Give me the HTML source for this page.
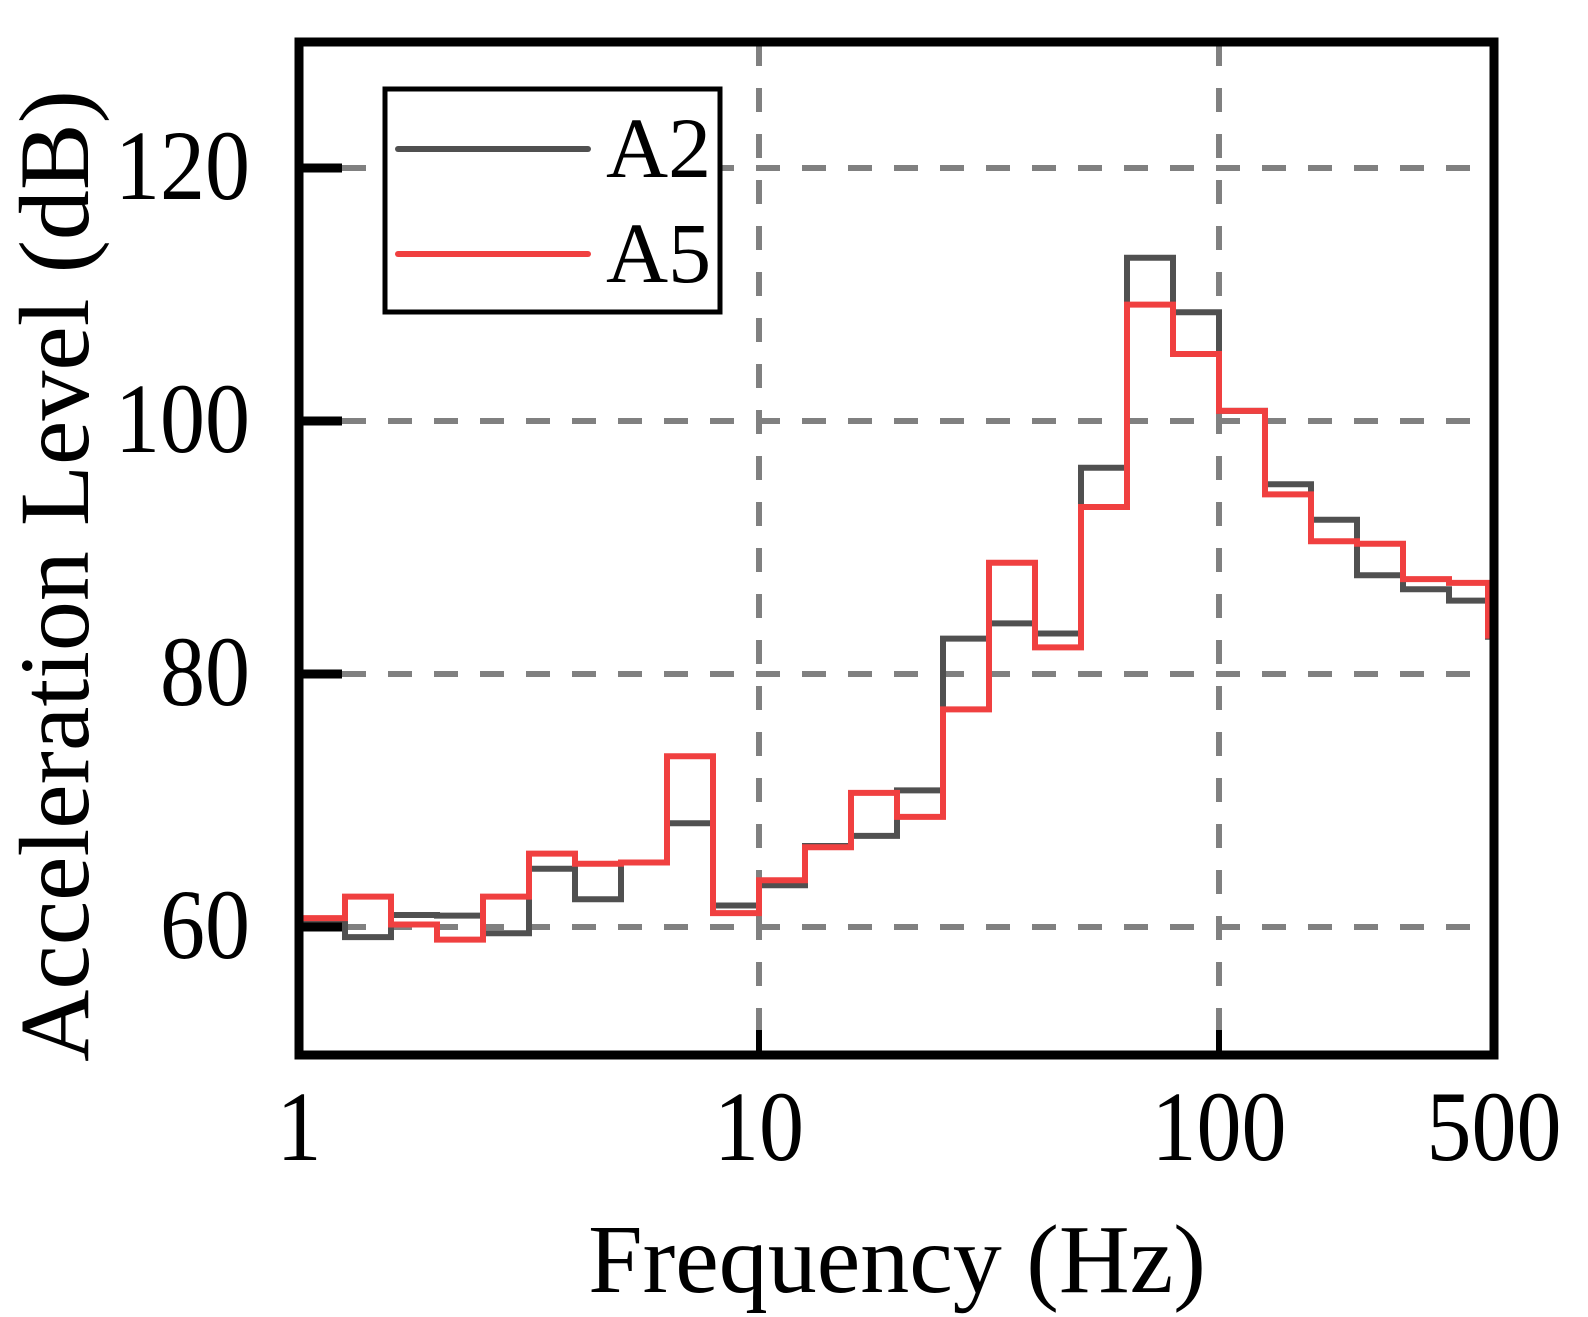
<!DOCTYPE html>
<html><head><meta charset="utf-8"><style>
html,body{margin:0;padding:0;background:#fff;}
svg{display:block;}
text{font-family:"Liberation Serif",serif;fill:#000;}
</style></head><body>
<svg id="chart" width="1588" height="1317" viewBox="0 0 1588 1317" xmlns="http://www.w3.org/2000/svg">
<g id="grid"></g>
<g id="series"></g>
<g id="axes"></g>
<g id="legend">
<rect x="385" y="89" width="335" height="223" fill="#fff" stroke="#000" stroke-width="5"/>
<line x1="398" y1="149" x2="588" y2="149" stroke="#505050" stroke-width="6" stroke-linecap="round"/>
<text x="606" y="177" font-size="86">A2</text>
<line x1="398" y1="254" x2="588" y2="254" stroke="#f04040" stroke-width="6" stroke-linecap="round"/>
<text x="606" y="282" font-size="86">A5</text>
</g>
<text x="0" y="0" font-size="100" text-anchor="middle" transform="translate(88,576) rotate(-90)">Acceleration Level (dB)</text>
<text x="897" y="1292" font-size="98" text-anchor="middle">Frequency (Hz)</text>
</svg>
<script>
const bandIndex = [0,1,2,3,4,5,6,7,8,9,10,11,12,13,14,15,16,17,18,19,20,21,22,23,24,25];
const a2Values = [60.5,59.2,60.95,60.9,59.5,64.6,62.2,65.1,68.2,61.7,63.3,66.4,67.2,70.8,82.8,84.0,83.2,96.3,112.9,108.6,100.8,95.0,92.2,87.8,86.7,85.8];
const a5Values = [60.7,62.4,60.2,59.0,62.4,65.8,65.0,65.1,73.5,61.1,63.7,66.3,70.6,68.7,77.2,88.8,82.1,93.2,109.2,105.3,100.8,94.2,90.5,90.3,87.5,87.2];
const a2End = 82.7;
const a5End = 82.8;
const yTicks = [60,80,100,120];
const xTicks = [1,10,100,500];
const xTickLabels = ["1","10","100","500"];

const L=299,R=1494,T=42,B=1055;
const decadePx=460;
function xs(f){return L+Math.log10(f)*decadePx;}
function ys(v){return 927-12.65*(v-60);}
const NS="http://www.w3.org/2000/svg";
function mk(tag,attrs,parent){const e=document.createElementNS(NS,tag);for(const k in attrs)e.setAttribute(k,attrs[k]);parent.appendChild(e);return e;}
const grid=document.getElementById('grid'),series=document.getElementById('series'),axes=document.getElementById('axes');

yTicks.forEach(v=>{
  const g=mk('line',{x1:L+43,x2:R,y1:ys(v),y2:ys(v),stroke:'#808080','stroke-width':6,'stroke-dasharray':'24 22'},grid);
  
  
});
[10,100].forEach(f=>{
  const g=mk('line',{x1:xs(f),x2:xs(f),y1:T,y2:B-25,stroke:'#808080','stroke-width':6,'stroke-dasharray':'24 22'},grid);
  
  
});

function stepPath(vals,endV){
  let d='';
  const xEnd=Math.min(xs(Math.pow(10,bandIndex.length/10)),R-6);
  bandIndex.forEach((k,i)=>{
    const x0=xs(Math.pow(10,k/10)),x1=Math.min(xs(Math.pow(10,(k+1)/10)),xEnd),y=ys(vals[i]);
    d+=(i===0?'M':'L')+x0.toFixed(1)+','+y.toFixed(1)+' L'+x1.toFixed(1)+','+y.toFixed(1)+' ';
  });
  d+='L'+xEnd.toFixed(1)+','+ys(endV).toFixed(1);
  return d;
}
const p2=mk('path',{d:stepPath(a2Values,a2End),fill:'none',stroke:'#505050','stroke-width':6,'stroke-linejoin':'miter'},series);


const p5=mk('path',{d:stepPath(a5Values,a5End),fill:'none',stroke:'#f04040','stroke-width':6,'stroke-linejoin':'miter'},series);



const fr=mk('rect',{x:L,y:T,width:R-L,height:B-T,fill:'none',stroke:'#000','stroke-width':9},axes);



yTicks.forEach(v=>{
  const t=mk('line',{x1:L,x2:L+43,y1:ys(v),y2:ys(v),stroke:'#000','stroke-width':9},axes);
  
  
  const lb=mk('text',{x:0,y:0,'font-size':100,'text-anchor':'end',transform:'translate(250,'+(ys(v)+31)+') scale(0.9,1)'},axes);
  lb.textContent=String(v);
  
  
});
xTicks.forEach((f,i)=>{
  const x=Math.min(xs(f),R);
  if(f===10||f===100){
    const t=mk('line',{x1:x,x2:x,y1:B,y2:B-25,stroke:'#000','stroke-width':6},axes);
    
    
  }
  const lb=mk('text',{x:0,y:0,'font-size':100,'text-anchor':'middle',transform:'translate('+x+',1160) scale(0.9,1)'},axes);
  lb.textContent=xTickLabels[i];
  
  
});
</script>
</body></html>
